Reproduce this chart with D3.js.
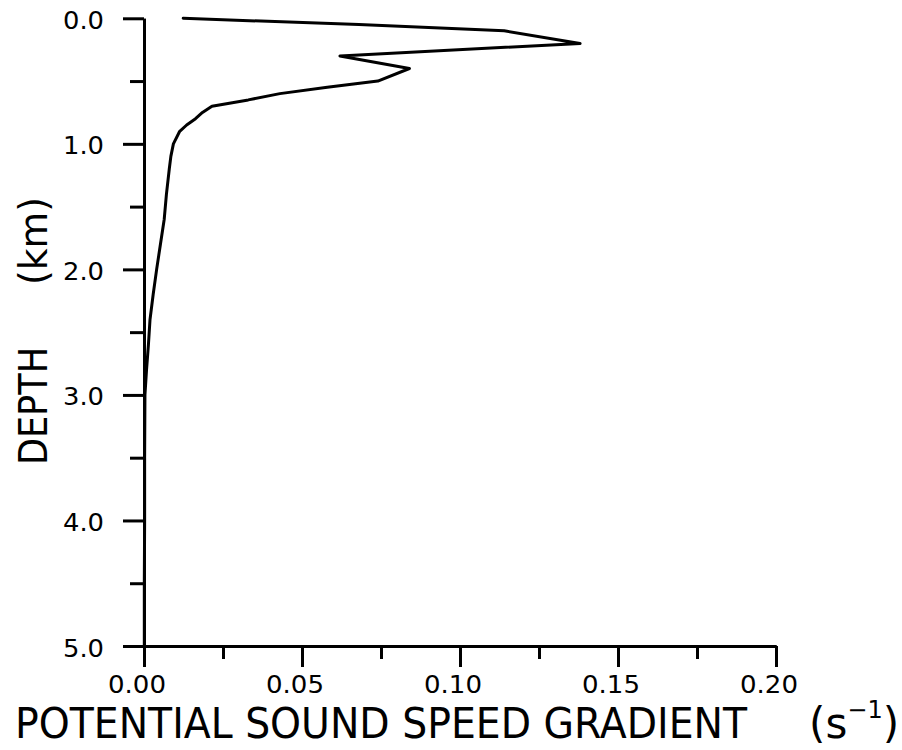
<!DOCTYPE html>
<html>
<head>
<meta charset="utf-8">
<script src="https://cdn.jsdelivr.net/npm/d3@7"></script>
<style>
    body { margin: 0; background: #fff; }
    svg { display: block; }
    .axis path, .axis line { stroke: #000; stroke-width: 3; }
    .label { font-family: 'DejaVu Sans', sans-serif; fill: #000; }
</style>
</head>
<body>
<svg width="902" height="750"></svg>
<script>
// depth (km) and potential sound speed gradient (1/s)
const depthKm = [0.0, 0.05, 0.1, 0.2, 0.3, 0.4, 0.5, 0.55, 0.6, 0.65, 0.7, 0.75, 0.8, 0.85, 0.9, 1.0,
    1.1, 1.2, 1.4, 1.6, 1.8, 2.0, 2.2, 2.4, 2.6, 2.8, 3.0, 3.5, 4.0, 4.5, 5.0];
const gradient = [0.0124, 0.068, 0.114, 0.138, 0.062, 0.084, 0.074, 0.058, 0.043, 0.033, 0.0215, 0.0185, 0.0163, 0.0135, 0.0113, 0.0093,
    0.0085, 0.0080, 0.0071, 0.0064, 0.0052, 0.0040, 0.0029, 0.0019, 0.0014, 0.0008, 0.0003, 0.0002, 0.0002, 0.0001, 0.0001];

const depthTicks = [0, 1, 2, 3, 4, 5];
const depthMinor = [0.5, 1.5, 2.5, 3.5, 4.5];
const gradTicks = [0, 0.05, 0.10, 0.15, 0.20];
const gradMinor = [0.025, 0.075, 0.125, 0.175];
const depthLabels = ['0.0', '1.0', '2.0', '3.0', '4.0', '5.0'];
const gradLabels = ['0.00', '0.05', '0.10', '0.15', '0.20'];

drawProfile();

function drawProfile() {
    const svg = d3.select('svg');

    const x = d3.scaleLinear().domain([0, 0.2]).range([144, 776]);
    const y = d3.scaleLinear().domain([0, 5]).range([18.3, 646]);

    // Axes: minor ticks first, then major ticks (labels are drawn separately)
    svg.append('g')
        .attr('class', 'axis')
        .attr('transform', 'translate(' + x(0) + ',0)')
        .call(d3.axisLeft(y).tickValues(depthMinor).tickSize(14).tickSizeOuter(0).tickFormat(''));
    svg.append('g')
        .attr('class', 'axis')
        .attr('transform', 'translate(' + x(0) + ',0)')
        .call(d3.axisLeft(y).tickValues(depthTicks).tickSize(21).tickSizeOuter(0).tickFormat(''));
    svg.append('g')
        .attr('class', 'axis')
        .attr('transform', 'translate(0,' + y(5) + ')')
        .call(d3.axisBottom(x).tickValues(gradMinor).tickSize(13).tickSizeOuter(0).tickFormat(''));
    svg.append('g')
        .attr('class', 'axis')
        .attr('transform', 'translate(0,' + y(5) + ')')
        .call(d3.axisBottom(x).tickValues(gradTicks).tickSize(21).tickSizeOuter(0).tickFormat(''));

    // Tick labels
    svg.append('g')
        .selectAll('text')
        .data(depthTicks)
        .enter()
        .append('text')
        .attr('class', 'label')
        .attr('x', x(0) - 40)
        .attr('y', (d) => y(d) + 10.5)
        .attr('text-anchor', 'end')
        .attr('font-size', 24)
        .attr('textLength', 41)
        .attr('lengthAdjust', 'spacingAndGlyphs')
        .text((d, i) => depthLabels[i]);
    svg.append('g')
        .selectAll('text')
        .data(gradTicks)
        .enter()
        .append('text')
        .attr('class', 'label')
        .attr('x', (d) => x(d) - 36)
        .attr('y', y(5) + 47)
        .attr('font-size', 25)
        .attr('textLength', 58)
        .attr('lengthAdjust', 'spacingAndGlyphs')
        .text((d, i) => gradLabels[i]);

    // Profile line
    const points = depthKm.map((d, i) => ({ depth: d, g: gradient[i] }));
    const line = d3.line()
        .x((d) => x(d.g))
        .y((d) => y(d.depth));
    svg.append('path')
        .attr('d', line(points))
        .attr('fill', 'none')
        .attr('stroke', '#000')
        .attr('stroke-width', 3)
        .attr('stroke-linejoin', 'round')
        .attr('stroke-linecap', 'round');

    // Axis titles
    svg.append('text')
        .attr('class', 'label')
        .attr('transform', 'translate(47,465) rotate(-90)')
        .attr('font-size', 39)
        .attr('textLength', 118)
        .attr('lengthAdjust', 'spacingAndGlyphs')
        .text('DEPTH');
    svg.append('text')
        .attr('class', 'label')
        .attr('transform', 'translate(47,285) rotate(-90)')
        .attr('font-size', 39)
        .attr('textLength', 88)
        .attr('lengthAdjust', 'spacingAndGlyphs')
        .text('(km)');

    svg.append('text')
        .attr('class', 'label')
        .attr('x', 15)
        .attr('y', 738)
        .attr('font-size', 42)
        .attr('textLength', 732)
        .attr('lengthAdjust', 'spacingAndGlyphs')
        .text('POTENTIAL SOUND SPEED GRADIENT');

    const unit = svg.append('text')
        .attr('class', 'label')
        .attr('x', 809)
        .attr('y', 738)
        .attr('font-size', 42);
    unit.append('tspan').text('(s');
    unit.append('tspan').attr('font-size', 24).attr('dy', -20).text('\u22121');
    unit.append('tspan').attr('dy', 20).text(')');
}
</script>
</body>
</html>
